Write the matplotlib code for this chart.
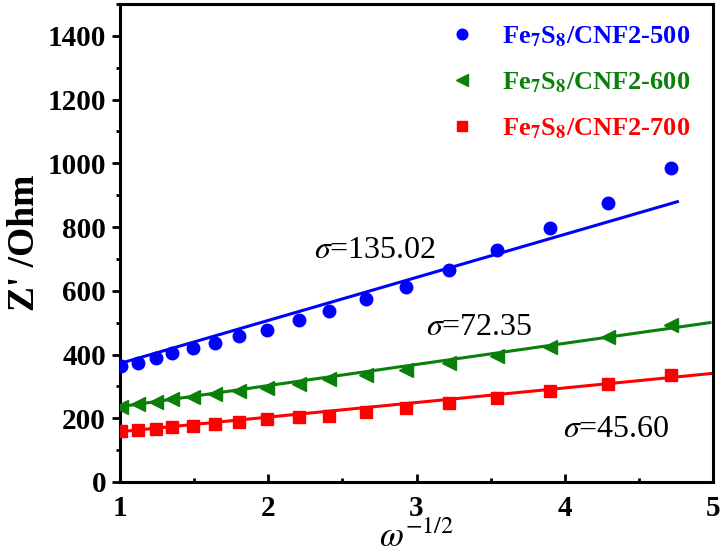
import numpy as np
import matplotlib
matplotlib.use("Agg")
import matplotlib.pyplot as plt
from matplotlib.ticker import MultipleLocator

plt.rcParams['font.family'] = ['Liberation Serif', 'DejaVu Serif']
plt.rcParams['mathtext.fontset'] = 'stix'

# ---- data ----
x_vals = [1.01, 1.12, 1.24, 1.35, 1.49, 1.64, 1.80, 1.99, 2.21, 2.41,
          2.66, 2.93, 3.22, 3.54, 3.90, 4.29, 4.72]
z_500 = [364, 375, 388, 404, 420, 437, 458, 477, 509, 537,
         574, 613, 666, 728, 797, 877, 985]
z_600 = [234, 245, 252, 261, 268, 276, 286, 296, 309, 322,
         336, 352, 373, 396, 423, 456, 493]
z_700 = [160, 163, 166, 172, 176, 181, 189, 197, 203, 208,
         221, 231, 247, 263, 285, 307, 335]

series_labels = ["Fe$_\\mathbf{7}$S$_\\mathbf{8}$/CNF2-500",
                 "Fe$_\\mathbf{7}$S$_\\mathbf{8}$/CNF2-600",
                 "Fe$_\\mathbf{7}$S$_\\mathbf{8}$/CNF2-700"]
fit_slopes = [135.02, 66.3, 45.8]
fit_intercepts = [237, 170, 112]
fit_x_end = [4.76, 4.98, 5.0]
sigma_texts = ["$\\sigma$=135.02", "$\\sigma$=72.35", "$\\sigma$=45.60"]
sigma_pos = [(2.72, 725), (3.42, 484), (4.35, 166)]

x_ticks = [1, 2, 3, 4, 5]
y_ticks = [0, 200, 400, 600, 800, 1000, 1200, 1400]

colors = ['#0000ff', '#0a800a', '#ff0000']
markers = ['o', '<', 's']
msizes = [9, 10, 8]

fig = plt.figure(figsize=(7.26, 5.56), dpi=100)
ax = fig.add_axes([120/726, (556-482)/556, 593/726, 478/556])

for ys, lab, c, m, ms, k, b, xe in zip([z_500, z_600, z_700], series_labels, colors,
                                      markers, msizes, fit_slopes, fit_intercepts, fit_x_end):
    ax.plot(x_vals, ys, ls='none', marker=m, ms=ms, color=c, mec=c, label=lab, zorder=3)
    xl = np.array([1.0, xe])
    ax.plot(xl, k * xl + b, color=c, lw=2.2, zorder=2)

for t, (tx, ty) in zip(sigma_texts, sigma_pos):
    ax.text(tx, ty, t, fontsize=23, ha='center', va='center', color='black')

ax.set_xlim(1, 5)
ax.set_ylim(0, 1500)
ax.set_xticks(x_ticks)
ax.set_yticks(y_ticks)
ax.xaxis.set_minor_locator(MultipleLocator(0.5))
ax.yaxis.set_minor_locator(MultipleLocator(100))
ax.tick_params(axis='x', which='major', direction='in', length=6, width=2, pad=9, labelsize=21)
ax.tick_params(axis='x', which='minor', direction='in', length=3, width=2)
ax.tick_params(axis='y', which='major', direction='out', length=6, width=2, pad=4, labelsize=21)
ax.tick_params(axis='y', which='minor', direction='out', length=3, width=2)
for lbl in ax.get_xticklabels() + ax.get_yticklabels():
    lbl.set_fontweight('bold')
for sp in ax.spines.values():
    sp.set_linewidth(2.2)

ax.set_xlabel("$\\omega^{-1/2}$", fontsize=25, labelpad=0)
ax.set_ylabel("Z' /Ohm", fontsize=27, fontweight='bold', labelpad=4)

leg = ax.legend(loc='upper left', bbox_to_anchor=(0.51, 1.012), frameon=False,
                prop={'weight': 'bold', 'size': 19},
                labelcolor='linecolor', handlelength=1.0, handletextpad=1.0,
                labelspacing=0.8, borderpad=0.5, markerscale=0.85)

fig.savefig("out.png", dpi=100)
